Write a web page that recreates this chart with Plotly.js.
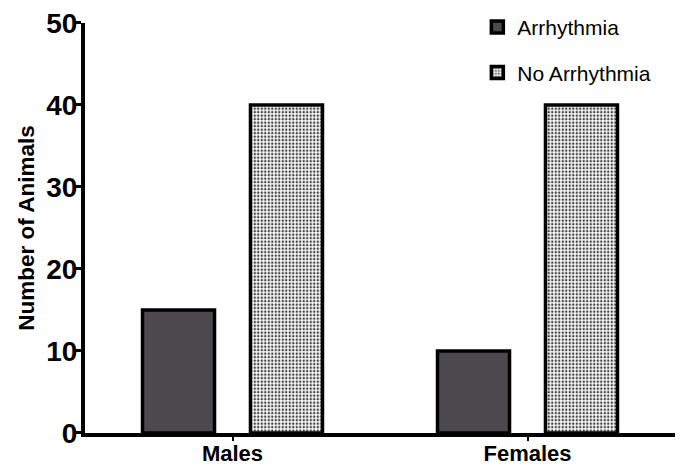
<!DOCTYPE html>
<html><head><meta charset="utf-8">
<script src="https://cdn.plot.ly/plotly-3.0.1.min.js"></script>
<style>body{margin:0;padding:0;background:#fff}#chart{width:683px;height:467px}</style>
</head><body><div id="chart"></div>
<script>
const categories = ["Males", "Females"];
const arrhythmia = [15, 10];
const noArrhythmia = [40, 40];
const seriesNames = ["Arrhythmia", "No Arrhythmia"];
const yTicks = [0, 10, 20, 30, 40, 50];

const data = [
  {type: "bar", name: seriesNames[0], x: categories, y: arrhythmia, legendgroup: "a",
   marker: {color: "#4b494e", line: {color: "#000", width: 3.5}}},
  {type: "bar", name: seriesNames[1], x: categories, y: noArrhythmia, legendgroup: "b",
   marker: {color: "#ffffff", line: {color: "#000", width: 3.5},
            pattern: {shape: ".", fgcolor: "#444", bgcolor: "#fff", size: 3.5, solidity: 0.4}}}
];
const layout = {
  width: 683, height: 467,
  margin: {l: 85, r: 8, t: 0, b: 34},
  paper_bgcolor: "#fff", plot_bgcolor: "#fff",
  barmode: "group", bargap: 0.268, bargroupgap: 0.333,
  showlegend: true,
  legend: {x: 0.665, y: 0.984, xanchor: "left", yanchor: "top", tracegroupgap: 15,
           font: {family: "Liberation Sans, Arial, sans-serif", size: 21, color: "#000"},
           bgcolor: "rgba(0,0,0,0)"},
  font: {family: "Liberation Sans, Arial, sans-serif", color: "#000"},
  xaxis: {type: "category", range: [-0.5, 1.5], showline: true, linecolor: "#000", linewidth: 4,
          ticks: "outside", ticklen: 4, tickwidth: 2, tickcolor: "#000", showgrid: false, zeroline: false,
          ticklabelstandoff: -6,
          tickfont: {size: 22, family: "Liberation Sans, Arial, sans-serif", weight: "bold"}},
  yaxis: {range: [0, 50], domain: [0, 0.947], tickvals: yTicks, showline: true, linecolor: "#000", linewidth: 4,
          ticks: "outside", ticklen: 6, tickwidth: 3, tickcolor: "#000", showgrid: false, zeroline: false,
          ticklabelstandoff: -8,
          tickfont: {size: 28, family: "Liberation Sans, Arial, sans-serif", weight: "bold"},
          title: {text: "Number of Animals", standoff: 6,
                  font: {size: 22.5, family: "Liberation Sans, Arial, sans-serif", weight: "bold"}}}
};
Plotly.newPlot("chart", data, layout, {displayModeBar: false, staticPlot: true});
</script></body></html>
